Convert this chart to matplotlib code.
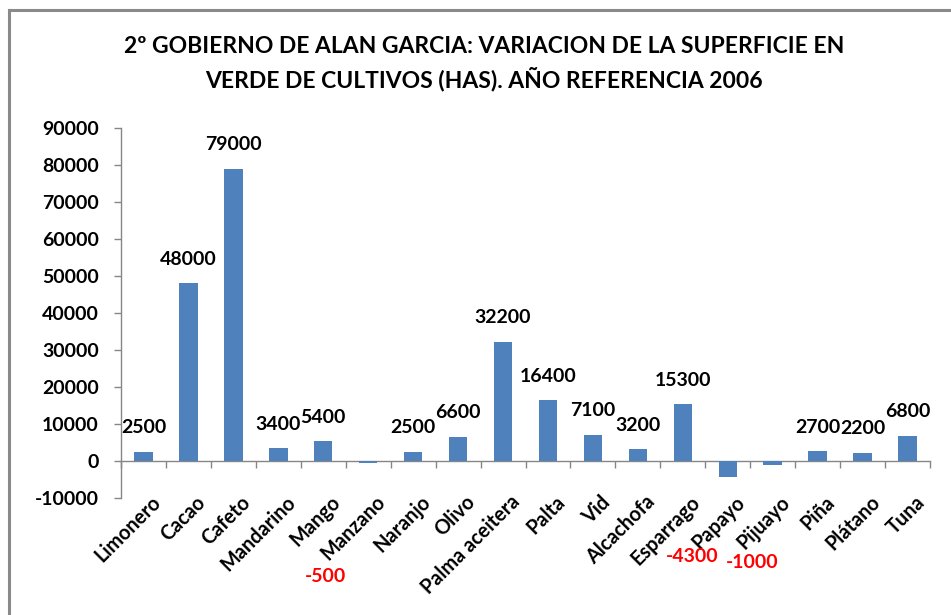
import matplotlib
matplotlib.use("Agg")
import matplotlib.pyplot as plt
from matplotlib.lines import Line2D
import numpy as np

categories = ["Limonero", "Cacao", "Cafeto", "Mandarino", "Mango", "Manzano",
              "Naranjo", "Olivo", "Palma aceitera", "Palta", "Vid", "Alcachofa",
              "Esparrago", "Papayo", "Pijuayo", "Piña", "Plátano", "Tuna"]
values = [2500, 48000, 79000, 3400, 5400, -500, 2500, 6600, 32200, 16400,
          7100, 3200, 15300, -4300, -1000, 2700, 2200, 6800]
yticks = list(range(-10000, 90001, 10000))
title = "2º GOBIERNO DE ALAN GARCIA: VARIACION DE LA SUPERFICIE EN\nVERDE DE CULTIVOS (HAS). AÑO REFERENCIA 2006"

# manual offsets (pixels) for the negative-value labels, as placed in the original
neg_label_offsets = {"Manzano": (-43, -114), "Papayo": (-36, -80), "Pijuayo": (-21, -98)}

FONT = "Lato"
BAR = "#4F81BD"
AXC = "#868686"
NUM_FS = 14
CAT_FS = 14.3

fig = plt.figure(figsize=(9.51, 6.15), dpi=100)
fig.patch.set_facecolor("white")
W, H = 951, 615
ax = fig.add_axes([121 / W, 1 - 498 / H, (930 - 121) / W, (498 - 128) / H])

x = np.arange(len(categories))
ax.bar(x, values, width=0.41, color=BAR, zorder=3)

ax.set_xlim(-0.5, len(categories) - 0.5)
ax.set_ylim(-10000, 90000)
ax.set_yticks(yticks)
ax.set_yticklabels([str(v) for v in yticks], fontfamily=FONT, fontweight="bold", fontsize=NUM_FS)

for s in ["top", "right"]:
    ax.spines[s].set_visible(False)
ax.spines["left"].set_color(AXC)
ax.spines["bottom"].set_color(AXC)
ax.spines["bottom"].set_position(("data", 0))
ax.spines["left"].set_linewidth(1.0)
ax.spines["bottom"].set_linewidth(1.0)

ax.set_xticks(np.arange(len(categories) + 1) - 0.5)
ax.set_xticklabels([])
ax.tick_params(axis="x", direction="out", length=5, color=AXC, width=1.0)
ax.tick_params(axis="y", direction="out", length=5, color=AXC, width=1.0, pad=11)

# category labels at the bottom of the plot area
for i, c in enumerate(categories):
    ax.annotate(c, xy=(i, 0), xycoords=("data", "axes fraction"),
                xytext=(7, 6), textcoords="offset pixels",
                rotation=45, ha="right", va="top", rotation_mode="anchor",
                fontfamily=FONT, fontweight="bold", fontsize=CAT_FS)

# data labels
for i, (c, v) in enumerate(zip(categories, values)):
    if v >= 0:
        ax.annotate(str(v), xy=(i, v), xytext=(0, 24), textcoords="offset pixels",
                    ha="center", va="center", fontfamily=FONT, fontweight="bold",
                    fontsize=NUM_FS, color="black")
    else:
        dx, dy = neg_label_offsets[c]
        ax.annotate(str(v), xy=(i, v), xytext=(dx, dy), textcoords="offset pixels",
                    ha="center", va="center", fontfamily=FONT, fontweight="bold",
                    fontsize=NUM_FS, color="red")

fig.text(484 / W, 1 - 36 / H, title, ha="center", va="top", fontfamily=FONT,
         fontweight="bold", fontsize=16.5, linespacing=1.45)

# chart frame (top and left edges visible)
fig.add_artist(Line2D([8.5 / W, 1.0], [1 - 9.5 / H, 1 - 9.5 / H], transform=fig.transFigure,
                      color="#8a8a8a", linewidth=2.2))
fig.add_artist(Line2D([8.5 / W, 8.5 / W], [0, 1 - 9.5 / H], transform=fig.transFigure,
                      color="#8a8a8a", linewidth=2.2))

fig.savefig("out.png", dpi=100, facecolor="white")
